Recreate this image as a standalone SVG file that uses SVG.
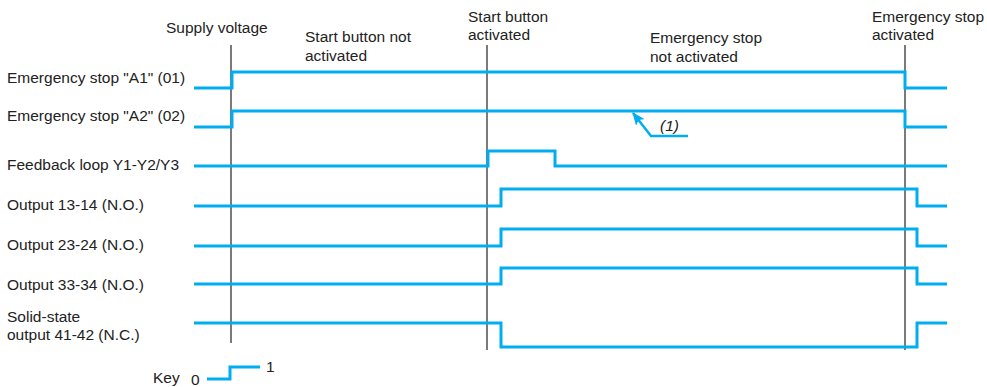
<svg xmlns="http://www.w3.org/2000/svg" width="987" height="387" viewBox="0 0 987 387">
<style>
text{font-family:"Liberation Sans",Arial,sans-serif;font-size:15.5px;fill:#222}
.sig{fill:none;stroke:#00AEEF;stroke-width:3;stroke-linejoin:miter;stroke-linecap:butt}
.mark{stroke:#222;stroke-width:1.2}
</style>
<defs>
<marker id="ah" markerWidth="13" markerHeight="11" refX="12" refY="5.5" orient="auto" markerUnits="userSpaceOnUse" viewBox="0 0 13 11">
<path d="M0,0 L13,5.5 L0,11 L3,5.5 z" fill="#00AEEF"/>
</marker>
</defs>
<g id="markers">
<line class="mark" x1="231" y1="45" x2="231" y2="343"/>
<line class="mark" x1="487" y1="45" x2="487" y2="350"/>
<line class="mark" x1="905" y1="45" x2="905" y2="350"/>
</g>
<g id="headers">
<text x="166" y="33">Supply voltage</text>
<text x="305" y="42">Start button not</text>
<text x="305" y="61">activated</text>
<text x="468" y="22">Start button</text>
<text x="468" y="40">activated</text>
<text x="650" y="43">Emergency stop</text>
<text x="650" y="62">not activated</text>
<text x="872" y="22">Emergency stop</text>
<text x="872" y="40">activated</text>
</g>
<g id="labels">
<text x="7" y="83">Emergency stop "A1" (01)</text>
<text x="7" y="121">Emergency stop "A2" (02)</text>
<text x="7" y="170">Feedback loop Y1-Y2/Y3</text>
<text x="7" y="210">Output 13-14 (N.O.)</text>
<text x="7" y="250">Output 23-24 (N.O.)</text>
<text x="7" y="290">Output 33-34 (N.O.)</text>
<text x="7" y="322">Solid-state</text>
<text x="7" y="340">output 41-42 (N.C.)</text>
</g>
<g id="signals">
<polyline class="sig" points="194,88 232,88 232,72 905,72 905,88 947,88"/>
<polyline class="sig" points="194,127 232,127 232,111 905,111 905,127 947,127"/>
<polyline class="sig" points="194,166 488,166 488,151 555,151 555,166 947,166"/>
<polyline class="sig" points="194,206 501,206 501,189 917,189 917,206 947,206"/>
<polyline class="sig" points="194,246 501,246 501,229 917,229 917,246 947,246"/>
<polyline class="sig" points="194,284 501,284 501,268 917,268 917,284 947,284"/>
<polyline class="sig" points="194,323 501,323 501,347 917,347 917,323 947,323"/>
</g>
<g id="note1">
<polyline fill="none" stroke="#00AEEF" stroke-width="2.5" points="688,136 651,136 633,113" marker-end="url(#ah)"/>
<text x="660" y="131" font-size="17" font-style="italic">(1)</text>
</g>
<g id="key">
<text x="153" y="383">Key</text>
<text x="191" y="385" font-size="14">0</text>
<polyline class="sig" points="207,379 230,379 230,367 260,367"/>
<text x="266" y="372" font-size="14">1</text>
</g>
</svg>
